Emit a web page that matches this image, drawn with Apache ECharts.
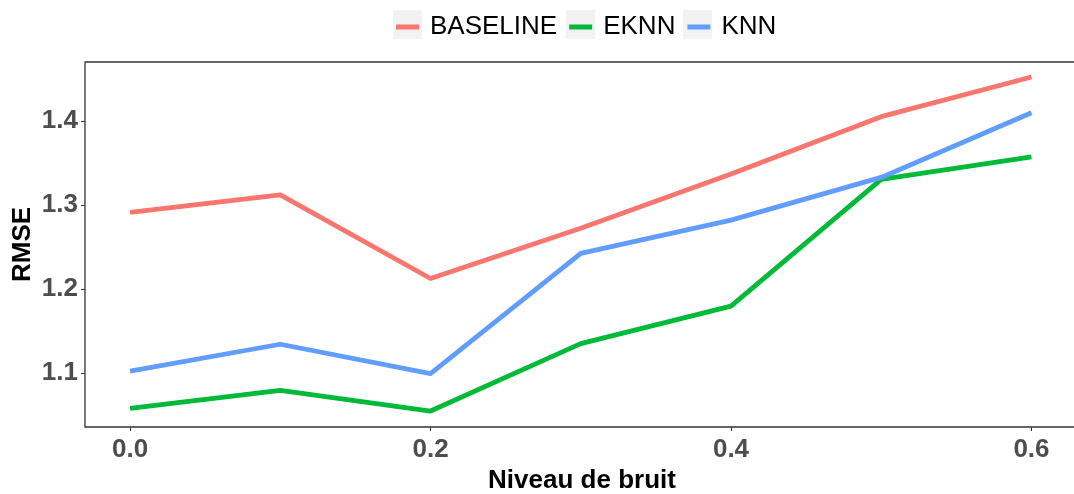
<!DOCTYPE html>
<html>
<head>
<meta charset="utf-8">
<script src="https://cdn.jsdelivr.net/npm/echarts@6/dist/echarts.min.js"></script>
<style>
  html, body { margin: 0; padding: 0; background: #ffffff; }
  #chart { width: 1074px; height: 494px; }
</style>
</head>
<body>
<div id="chart"></div>
<script>
// Noise levels and RMSE per method
const noiseLevels = [0.0, 0.1, 0.2, 0.3, 0.4, 0.5, 0.6];
const baselineRmse = [1.2915, 1.3125, 1.2129, 1.2728, 1.3372, 1.4055, 1.4528];
const eknnRmse     = [1.0583, 1.0797, 1.0551, 1.1354, 1.1799, 1.3309, 1.3578];
const knnRmse      = [1.1027, 1.1346, 1.0996, 1.2427, 1.2824, 1.3332, 1.4102];
const xTicks = [0.0, 0.2, 0.4, 0.6];
const yTicks = [1.1, 1.2, 1.3, 1.4];

const FONT = "'Liberation Sans', Arial, sans-serif";
const seriesDefs = [
  { name: 'BASELINE', values: baselineRmse, color: '#F8766D' },
  { name: 'EKNN', values: eknnRmse, color: '#00BA38' },
  { name: 'KNN', values: knnRmse, color: '#619CFF' }
];

const chart = echarts.init(document.getElementById('chart'), null, { renderer: 'canvas' });

// grey key backgrounds behind the legend swatches
const keyBoxes = [393, 566, 683].map(x => ({
  type: 'rect', left: x, top: 10, z: 0,
  shape: { width: 29, height: 29 },
  style: { fill: '#F2F2F2' }
}));

// panel runs past the right edge of the canvas, so only three sides show
const panelWidth = 1000;
const xMin = -0.03;
const xMax = xMin + panelWidth / 1502.3;

chart.setOption({
  backgroundColor: '#ffffff',
  animation: false,
  graphic: keyBoxes,
  legend: {
    left: 396, top: 14, padding: 0,
    itemWidth: 23, itemHeight: 5, itemGap: 12,
    icon: 'rect', z: 5,
    textStyle: { fontFamily: FONT, fontSize: 26, color: '#000000', lineHeight: 26, padding: [0, 0, 0, 6] },
    data: seriesDefs.map(s => s.name)
  },
  grid: {
    left: 85, top: 62, width: panelWidth, height: 365,
    outerBoundsMode: 'none', containLabel: false,
    show: true, borderColor: '#333333', borderWidth: 1.3, backgroundColor: 'transparent'
  },
  xAxis: {
    type: 'value', min: xMin, max: xMax,
    name: 'Niveau de bruit', nameLocation: 'middle', nameGap: 38,
    nameTextStyle: { fontFamily: FONT, fontSize: 26, fontWeight: 'bold', color: '#000000',
                     padding: [0, 6, 0, 0] },
    axisLine: { show: false, onZero: false },
    axisTick: { show: true, customValues: xTicks, length: 4, lineStyle: { color: '#333333', width: 1 } },
    axisLabel: {
      customValues: xTicks, margin: 10,
      fontFamily: FONT, fontSize: 26, fontWeight: 'bold', color: '#4D4D4D',
      formatter: v => v.toFixed(1)
    },
    splitLine: { show: false }
  },
  yAxis: {
    type: 'value', min: 1.0361, max: 1.4706,
    name: 'RMSE', nameLocation: 'middle', nameGap: 49, nameRotate: 90,
    nameMoveOverlap: false,
    nameTextStyle: { fontFamily: FONT, fontSize: 26, fontWeight: 'bold', color: '#000000' },
    axisLine: { show: false, onZero: false },
    axisTick: { show: true, customValues: yTicks, length: 4, lineStyle: { color: '#333333', width: 1 } },
    axisLabel: {
      customValues: yTicks, margin: 7,
      fontFamily: FONT, fontSize: 26, fontWeight: 'bold', color: '#4D4D4D',
      formatter: v => v.toFixed(1)
    },
    splitLine: { show: false }
  },
  series: seriesDefs.map(s => ({
    name: s.name, type: 'line',
    data: noiseLevels.map((x, i) => [x, s.values[i]]),
    showSymbol: false, symbol: 'none',
    color: s.color,
    lineStyle: { color: s.color, width: 4.8, join: 'round' },
    itemStyle: { color: s.color }
  }))
});
</script>
</body>
</html>
